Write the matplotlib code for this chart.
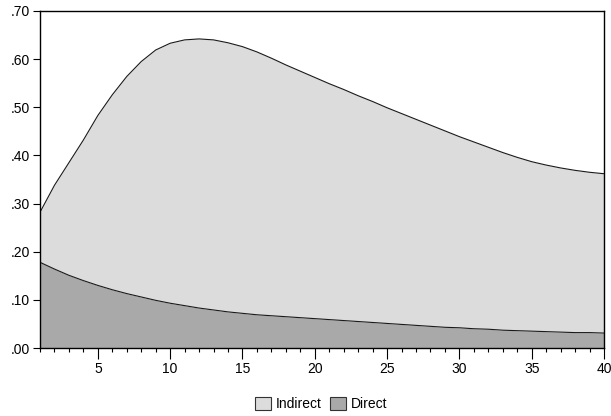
import numpy as np
import matplotlib.pyplot as plt
from matplotlib.ticker import MultipleLocator, FixedLocator, FuncFormatter
from matplotlib.patches import Patch

plt.rcParams['font.family'] = ['Liberation Sans', 'DejaVu Sans']

# periods
periods = list(range(1, 41))

# direct effect (bottom layer)
direct = [0.178, 0.164, 0.151, 0.140, 0.130, 0.121, 0.113, 0.106, 0.099, 0.093,
          0.088, 0.083, 0.079, 0.075, 0.072, 0.069, 0.067, 0.065, 0.063, 0.061,
          0.059, 0.057, 0.055, 0.053, 0.051, 0.049, 0.047, 0.045, 0.043, 0.042,
          0.040, 0.039, 0.037, 0.036, 0.035, 0.034, 0.033, 0.032, 0.032, 0.031]

# indirect effect (stacked on top)
indirect = [0.104, 0.174, 0.234, 0.292, 0.353, 0.405, 0.451, 0.489, 0.520, 0.540,
            0.552, 0.559, 0.561, 0.559, 0.554, 0.546, 0.535, 0.523, 0.512, 0.501,
            0.490, 0.480, 0.469, 0.459, 0.448, 0.438, 0.428, 0.418, 0.408, 0.397,
            0.388, 0.378, 0.369, 0.360, 0.352, 0.346, 0.341, 0.337, 0.333, 0.331]

x_ticks = [5, 10, 15, 20, 25, 30, 35, 40]
y_ticks = [0.0, 0.1, 0.2, 0.3, 0.4, 0.5, 0.6, 0.7]

fig = plt.figure(figsize=(6.11, 4.16), dpi=100)
ax = fig.add_axes([40/611, 68/416, 564/611, 337/416])

x = np.array(periods)
d = np.array(direct)
tot = d + np.array(indirect)

ax.fill_between(x, 0, d, color='#a8a9a8', lw=0)
ax.fill_between(x, d, tot, color='#dcdcdc', lw=0)
ax.plot(x, d, color='#1a1a1a', lw=0.8)
ax.plot(x, tot, color='#1a1a1a', lw=0.8)

ax.set_xlim(1, 40)
ax.set_ylim(0, 0.7)
ax.xaxis.set_major_locator(FixedLocator(x_ticks))
ax.xaxis.set_minor_locator(MultipleLocator(1))
ax.yaxis.set_major_locator(FixedLocator(y_ticks))
ax.yaxis.set_major_formatter(FuncFormatter(lambda v, p: ('%.2f' % v)[1:]))

ax.tick_params(axis='both', which='both', direction='out', top=False, right=False,
               labelsize=10, color='black', width=0.8)
ax.tick_params(axis='x', which='major', length=8, pad=2)
ax.tick_params(axis='x', which='minor', length=3)
ax.tick_params(axis='y', which='major', length=5, pad=2)
for s in ax.spines.values():
    s.set_linewidth(1.0)

leg_handles = [Patch(facecolor='#dcdcdc', edgecolor='#333333', lw=0.8),
               Patch(facecolor='#a8a9a8', edgecolor='#333333', lw=0.8)]
fig.legend(leg_handles, ['Indirect', 'Direct'], loc='center', bbox_to_anchor=(0.525, 0.028),
           ncol=2, frameon=False, fontsize=10, handlelength=1.2, handleheight=1.0,
           handletextpad=0.3, columnspacing=0.6)

fig.savefig('out.png', dpi=100)
